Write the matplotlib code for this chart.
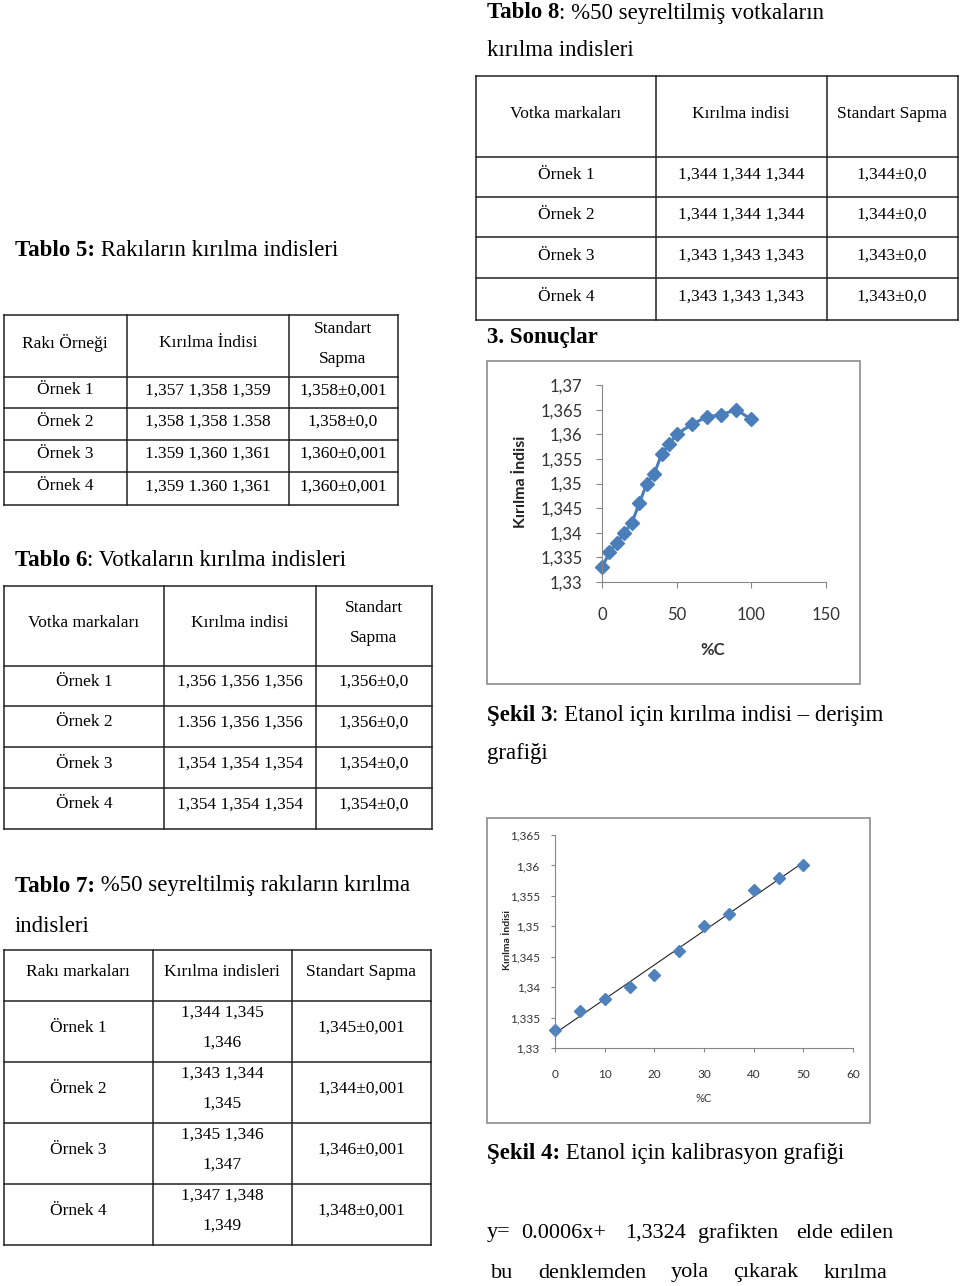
import numpy as np
import matplotlib
matplotlib.use("Agg")
import matplotlib.pyplot as plt
from matplotlib.patches import Rectangle
from matplotlib.ticker import FuncFormatter

# ---------------- data ----------------
conc_all = [0, 5, 10, 15, 20, 25, 30, 35, 40, 45, 50, 60, 70, 80, 90, 100]
ri_all = [1.333, 1.336, 1.338, 1.340, 1.342, 1.346, 1.350, 1.352, 1.356, 1.358,
          1.360, 1.362, 1.3635, 1.364, 1.365, 1.363]
conc_cal = [0, 5, 10, 15, 20, 25, 30, 35, 40, 45, 50]
ri_cal = [1.333, 1.336, 1.338, 1.340, 1.342, 1.346, 1.350, 1.352, 1.356, 1.358, 1.360]

samples = ["Örnek 1", "Örnek 2", "Örnek 3", "Örnek 4"]
t5_vals = ["1,357 1,358 1,359", "1,358 1,358 1.358", "1.359 1,360 1,361", "1,359 1.360 1,361"]
t5_sd = ["1,358±0,001", "1,358±0,0", "1,360±0,001", "1,360±0,001"]
t6_vals = ["1,356 1,356 1,356", "1.356 1,356 1,356", "1,354 1,354 1,354", "1,354 1,354 1,354"]
t6_sd = ["1,356±0,0", "1,356±0,0", "1,354±0,0", "1,354±0,0"]
t7_vals = [("1,344 1,345", "1,346"), ("1,343 1,344", "1,345"),
           ("1,345 1,346", "1,347"), ("1,347 1,348", "1,349")]
t7_sd = ["1,345±0,001", "1,344±0,001", "1,346±0,001", "1,348±0,001"]
t8_vals = ["1,344 1,344 1,344", "1,344 1,344 1,344", "1,343 1,343 1,343", "1,343 1,343 1,343"]
t8_sd = ["1,344±0,0", "1,344±0,0", "1,343±0,0", "1,343±0,0"]

SERIF = "Liberation Serif"
SANS = ["Lato", "DejaVu Sans"]
TS = 12.5   # table text
HS = 16.5   # headings
W, H = 960, 1286
DY = 2      # small shift so text centres sit like the reference

fig = plt.figure(figsize=(W / 100, H / 100), dpi=100)
bg = fig.add_axes([0, 0, 1, 1])
bg.set_xlim(0, W)
bg.set_ylim(H, 0)
bg.axis("off")


def box(x0, y0, x1, y1):
    return [x0 / W, 1 - y1 / H, (x1 - x0) / W, (y1 - y0) / H]


def txt(x, y, s, size=TS, ha="center", **kw):
    return bg.text(x, y + DY, s, fontsize=size, ha=ha, va="center", family=SERIF, **kw)


def heading(x, y, bold, rest, size=HS):
    t = bg.text(x, y + DY, bold, fontsize=size, ha="left", va="center", family=SERIF,
                weight="bold")
    bg.annotate(rest, xy=(1, 0), xycoords=t, ha="left", va="bottom",
                fontsize=size, family=SERIF)


def grid(xs, ys):
    for x in xs:
        bg.plot([x, x], [ys[0], ys[-1]], color="#222222", lw=1.1)
    for y in ys:
        bg.plot([xs[0], xs[-1]], [y, y], color="#222222", lw=1.1)


# ---------------- Tablo 8 ----------------
heading(487, 11, "Tablo 8", ": %50 seyreltilmiş votkaların")
txt(487, 49, "kırılma indisleri", size=HS, ha="left")
xs8 = [476, 656, 827, 958]
ys8 = [76, 157, 197, 237, 278, 320]
grid(xs8, ys8)
c8 = [566, 741, 892]
txt(c8[0], 112, "Votka markaları")
txt(c8[1], 112, "Kırılma indisi")
txt(c8[2], 112, "Standart Sapma")
for i in range(4):
    yy = (ys8[i + 1] + ys8[i + 2]) / 2 - 4
    txt(c8[0], yy, samples[i])
    txt(c8[1], yy, t8_vals[i])
    txt(c8[2], yy, t8_sd[i])

# ---------------- Tablo 5 ----------------
heading(15, 249, "Tablo 5:", " Rakıların kırılma indisleri")
xs5 = [4, 127, 289, 398]
ys5 = [315, 377, 408, 440, 472, 505]
grid(xs5, ys5)
c5 = [65, 208, 343]
txt(c5[0], 341, "Rakı Örneği")
txt(c5[1], 341, "Kırılma İndisi")
txt(c5[2], 327, "Standart")
txt(c5[2], 357, "Sapma")
for i in range(4):
    yy = (ys5[i + 1] + ys5[i + 2]) / 2 - 4
    txt(c5[0], yy, samples[i])
    txt(c5[1], yy, t5_vals[i])
    txt(c5[2], yy, t5_sd[i])

# ---------------- Tablo 6 ----------------
heading(15, 559, "Tablo 6", ": Votkaların kırılma indisleri")
xs6 = [4, 164, 316, 432]
ys6 = [586, 666, 706, 747, 788, 829]
grid(xs6, ys6)
c6 = [84, 240, 374]
txt(c6[0], 621, "Votka markaları")
txt(c6[1], 621, "Kırılma indisi")
txt(c6[2], 606, "Standart")
txt(c6[2], 636, "Sapma")
for i in range(4):
    yy = (ys6[i + 1] + ys6[i + 2]) / 2 - 6
    txt(c6[0], yy, samples[i])
    txt(c6[1], yy, t6_vals[i])
    txt(c6[2], yy, t6_sd[i])

# ---------------- Tablo 7 ----------------
heading(15, 884, "Tablo 7:", " %50 seyreltilmiş rakıların kırılma")
txt(15, 924, "indisleri", size=HS, ha="left")
xs7 = [4, 153, 292, 431]
ys7 = [950, 1001, 1062, 1123, 1184, 1245]
grid(xs7, ys7)
c7 = [78, 222, 361]
txt(c7[0], 970, "Rakı markaları")
txt(c7[1], 970, "Kırılma indisleri")
txt(c7[2], 970, "Standart Sapma")
for i in range(4):
    top = ys7[i + 1]
    txt(c7[0], top + 25, samples[i])
    txt(c7[1], top + 10, t7_vals[i][0])
    txt(c7[1], top + 40, t7_vals[i][1])
    txt(c7[2], top + 25, t7_sd[i])

# ---------------- right column texts ----------------
bg.text(487, 335 + DY, "3. Sonuçlar", fontsize=HS, ha="left", va="center",
        family=SERIF, weight="bold")
heading(487, 713, "Şekil 3", ": Etanol için kırılma indisi – derişim")
txt(487, 752, "grafiği", size=HS, ha="left")
heading(487, 1151, "Şekil 4:", " Etanol için kalibrasyon grafiği")

# justified paragraph: word centres
line1 = [("y=", 499), ("0.0006x+", 564), ("1,3324", 656), ("grafikten", 738),
         ("elde", 815), ("edilen", 866)]
line2 = [("bu", 502), ("denklemden", 592), ("yola", 690), ("çıkarak", 766),
         ("kırılma", 856)]
for w, x in line1:
    txt(x, 1231, w, size=16)
for w, x in line2:
    txt(x, 1271, w, size=16)

comma = FuncFormatter(lambda v, p: ("%g" % round(v, 4)).replace(".", ","))

# ---------------- Şekil 3 chart ----------------
bg.add_patch(Rectangle((487, 361), 373, 323, fill=False, edgecolor="#8c8c8c", lw=1.2))
ax1 = fig.add_axes(box(602, 385, 826, 582))
ax1.plot(conc_all, ri_all, color="#4a7ebb", lw=2.2, marker="D", ms=7,
         markerfacecolor="#4a7ebb", markeredgecolor="#4a7ebb", clip_on=False)
ax1.set_xlim(0, 150)
ax1.set_ylim(1.33, 1.37)
ax1.set_xticks([0, 50, 100, 150])
ax1.set_yticks(np.arange(1.33, 1.3701, 0.005))
ax1.yaxis.set_major_formatter(comma)
for s in ["top", "right"]:
    ax1.spines[s].set_visible(False)
for s in ["left", "bottom"]:
    ax1.spines[s].set_color("#868686")
ax1.tick_params(colors="#868686", length=4, labelcolor="#333333", labelsize=12)
ax1.tick_params(axis="x", pad=14)
ax1.tick_params(axis="y", pad=10)
for lab in ax1.get_xticklabels() + ax1.get_yticklabels():
    lab.set_family(SANS)
bg.text(521, 482, "Kırılma İndisi", rotation=90, ha="center", va="center",
        fontsize=11.5, weight="bold", family=SANS, color="#222222")
bg.text(713, 650, "%C", ha="center", va="center", fontsize=12, weight="bold",
        family=SANS, color="#333333")

# ---------------- Şekil 4 chart ----------------
bg.add_patch(Rectangle((487, 818), 383, 305, fill=False, edgecolor="#8c8c8c", lw=1.2))
ax2 = fig.add_axes(box(555, 835, 853, 1048))
slope, icpt = np.polyfit(conc_cal, ri_cal, 1)
xfit = np.array([conc_cal[0], conc_cal[-1]])
ax2.plot(xfit, slope * xfit + icpt, color="#222222", lw=0.8)
ax2.plot(conc_cal, ri_cal, ls="none", marker="D", ms=6, color="#4f81bd", clip_on=False)
ax2.set_xlim(0, 60)
ax2.set_ylim(1.33, 1.365)
ax2.set_xticks(range(0, 61, 10))
ax2.set_yticks(np.arange(1.33, 1.3651, 0.005))
ax2.yaxis.set_major_formatter(comma)
for s in ["top", "right"]:
    ax2.spines[s].set_visible(False)
for s in ["left", "bottom"]:
    ax2.spines[s].set_color("#868686")
ax2.tick_params(colors="#868686", length=3, labelcolor="#333333", labelsize=8.5)
ax2.tick_params(axis="x", pad=12)
ax2.tick_params(axis="y", pad=8)
for lab in ax2.get_xticklabels() + ax2.get_yticklabels():
    lab.set_family(SANS)
bg.text(681, 842, "y = 0,0006x + 1,3324", ha="center", va="center", fontsize=8,
        family=SANS, color="#333333")
bg.text(681, 858, "R² = 0,9923", ha="center", va="center", fontsize=8,
        family=SANS, color="#333333")
bg.text(507, 940, "Kırılma İndisi", rotation=90, ha="center", va="center",
        fontsize=7.5, weight="bold", family=SANS, color="#222222")
bg.text(704, 1098, "%C", ha="center", va="center", fontsize=8,
        family=SANS, color="#333333")

fig.savefig("out.png", dpi=100)
